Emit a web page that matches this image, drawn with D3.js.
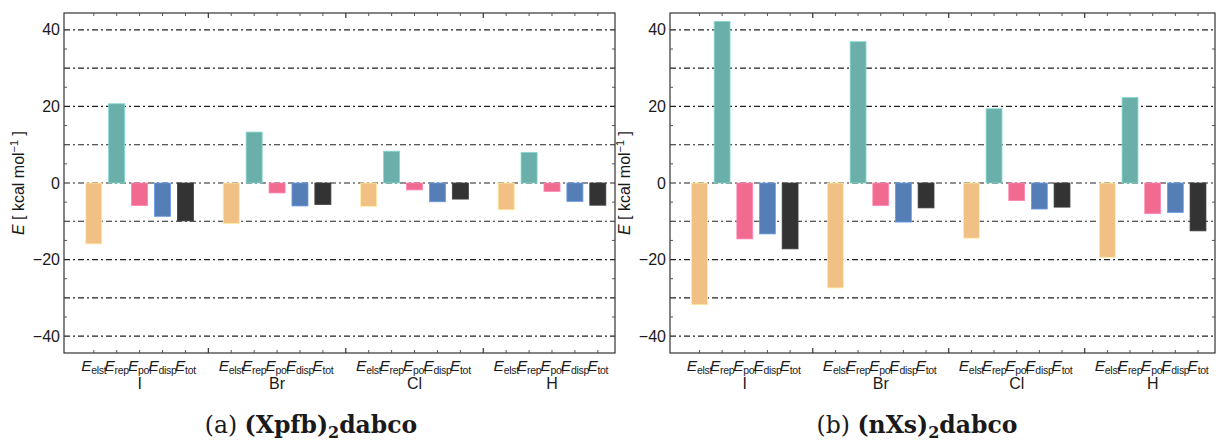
<!DOCTYPE html>
<html>
<head>
<meta charset="utf-8">
<script src="https://cdn.jsdelivr.net/npm/d3@7"></script>
<style>
  body { margin: 0; background: #fff; }
  svg { display: block; }
  text { font-family: "Liberation Sans", Arial, sans-serif; fill: #1a1a1a; }
</style>
</head>
<body>
<div id="viz"></div>
<script>
// data
const groups = ['I', 'Br', 'Cl', 'H'];
const terms = ['elst', 'rep', 'pol', 'disp', 'tot'];
const colors = ['#f0c084', '#6aafa9', '#f06b8f', '#557eb7', '#333333'];
const valuesA = [
  [-15.9, 20.7, -5.9, -8.7, -9.9],
  [-10.6, 13.3, -2.6, -6.0, -5.6],
  [-6.1, 8.3, -1.8, -4.9, -4.2],
  [-7.0, 8.0, -2.2, -4.8, -5.8]
];
const valuesB = [
  [-31.8, 42.2, -14.6, -13.3, -17.2],
  [-27.4, 36.9, -5.9, -10.2, -6.5],
  [-14.4, 19.4, -4.6, -6.8, -6.3],
  [-19.4, 22.3, -8.0, -7.7, -12.5]
];
const yTicks = [-40, -20, 0, 20, 40];
const gridTicks = [-40, -30, -20, -10, 0, 10, 20, 30, 40];
const minorTicks = [-35, -25, -15, -5, 5, 15, 25, 35];

const width = 1216;
const height = 442;

const svg = d3.select('#viz')
  .append('svg')
  .attr('width', width)
  .attr('height', height);

function drawPanel(values, x0, x1, caption, capX) {
  const top = 13, bottom = 353;
  const slots = groups.length * (terms.length + 1) - 1;

  const x = d3.scaleLinear()
    .domain([-1.3, slots - 1 + 0.75])
    .range([x0, x1]);

  const y = d3.scaleLinear()
    .domain([-44.4, 44.4])
    .range([bottom, top]);

  const g = svg.append('g');
  const bw = (x(1) - x(0)) * 0.7;

  // dash-dot grid lines
  g.selectAll('.grid')
    .data(gridTicks)
    .enter()
    .append('line')
    .attr('x1', x0).attr('x2', x1)
    .attr('y1', d => y(d)).attr('y2', d => y(d))
    .attr('stroke', '#222')
    .attr('stroke-width', 1.1)
    .attr('stroke-dasharray', '6,3,2,3');

  // bars
  const flat = [];
  values.forEach((row, gi) => row.forEach((v, ti) => {
    flat.push({ slot: gi * (terms.length + 1) + ti, term: ti, value: v });
  }));

  g.selectAll('.bar')
    .data(flat)
    .enter()
    .append('rect')
    .attr('x', d => x(d.slot) - bw / 2)
    .attr('y', d => y(Math.max(0, d.value)))
    .attr('width', bw)
    .attr('height', d => Math.abs(y(d.value) - y(0)))
    .attr('fill', d => colors[d.term])
    .attr('stroke', d => d3.color(colors[d.term]).brighter(0.6))
    .attr('stroke-width', 0.8);

  // frame
  g.append('rect')
    .attr('x', x0).attr('y', top)
    .attr('width', x1 - x0).attr('height', bottom - top)
    .attr('fill', 'none')
    .attr('stroke', '#333')
    .attr('stroke-width', 1.2);

  // inward ticks on left / right
  [x0, x1].forEach(xe => {
    const dir = xe === x0 ? 1 : -1;
    g.selectAll(null)
      .data(minorTicks)
      .enter()
      .append('line')
      .attr('x1', xe).attr('x2', xe + dir * 3)
      .attr('y1', d => y(d)).attr('y2', d => y(d))
      .attr('stroke', '#555').attr('stroke-width', 1);
  });

  // ticks on top / bottom
  const barSlots = flat.map(d => d.slot);
  const sepSlots = d3.range(1, groups.length).map(i => i * (terms.length + 1) - 1);
  [[top, 1], [bottom, -1]].forEach(([ye, dir]) => {
    g.selectAll(null)
      .data(barSlots)
      .enter()
      .append('line')
      .attr('x1', d => x(d)).attr('x2', d => x(d))
      .attr('y1', ye).attr('y2', ye + dir * 3)
      .attr('stroke', '#555').attr('stroke-width', 1);
    g.selectAll(null)
      .data(sepSlots)
      .enter()
      .append('line')
      .attr('x1', d => x(d)).attr('x2', d => x(d))
      .attr('y1', ye).attr('y2', ye + dir * 5)
      .attr('stroke', '#333').attr('stroke-width', 1.2);
  });

  // y tick labels
  g.selectAll('.ylab')
    .data(yTicks)
    .enter()
    .append('text')
    .attr('x', x0 - 4)
    .attr('y', d => y(d) + 5.5)
    .attr('text-anchor', 'end')
    .attr('font-size', 16)
    .text(d => d3.format('')(d));

  // y axis title
  const yt = g.append('text')
    .attr('transform', `translate(${x0 - 40},${y(0)}) rotate(-90)`)
    .attr('text-anchor', 'middle')
    .attr('font-size', 16);
  yt.append('tspan').attr('font-style', 'italic').text('E');
  yt.append('tspan').text(' [ kcal mol');
  yt.append('tspan').attr('font-size', 11).attr('dy', -6).text('−1');
  yt.append('tspan').attr('dy', 6).text(' ]');

  // bar labels
  flat.forEach(d => {
    const t = g.append('text')
      .attr('x', x(d.slot))
      .attr('y', 371)
      .attr('text-anchor', 'middle')
      .attr('font-size', 15.5)
      .attr('letter-spacing', -0.3);
    t.append('tspan').attr('font-style', 'italic').text('E');
    t.append('tspan').attr('font-size', 10.5).attr('dy', 3).text(terms[d.term]);
  });

  // group labels
  g.selectAll('.glab')
    .data(groups)
    .enter()
    .append('text')
    .attr('x', (d, i) => x(i * (terms.length + 1) + 2))
    .attr('y', 389)
    .attr('text-anchor', 'middle')
    .attr('font-size', 16)
    .text(d => d);

  // caption
  const c = g.append('text')
    .attr('x', capX)
    .attr('y', 433)
    .attr('text-anchor', 'middle')
    .attr('font-size', 23.5)
    .style('font-family', '"DejaVu Serif", "Liberation Serif", serif');
  c.append('tspan').text(caption[0] + ' ');
  c.append('tspan').attr('font-weight', 'bold').text(caption[1]);
  c.append('tspan').attr('font-weight', 'bold').attr('font-size', 16).attr('dy', 5).text('2');
  c.append('tspan').attr('font-weight', 'bold').attr('dy', -5).text('dabco');
}

drawPanel(valuesA, 64, 615, ['(a)', '(Xpfb)'], 311);
drawPanel(valuesB, 670, 1215, ['(b)', '(nXs)'], 917);
</script>
</body>
</html>
